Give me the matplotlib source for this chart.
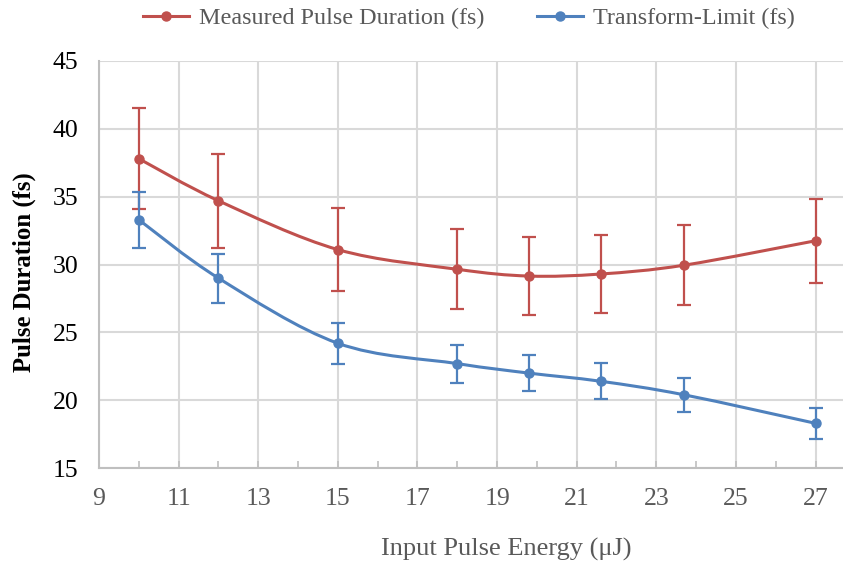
import matplotlib.pyplot as plt
import numpy as np
from matplotlib.path import Path
from matplotlib.patches import PathPatch
from matplotlib.lines import Line2D

energy = [10, 12, 15, 18, 19.8, 21.6, 23.7, 27]
measured = [37.8, 34.7, 31.1, 29.65, 29.15, 29.3, 29.95, 31.75]
measured_err = [3.7, 3.45, 3.05, 2.95, 2.85, 2.9, 2.95, 3.1]
tlimit = [33.3, 29.0, 24.2, 22.7, 22.0, 21.4, 20.4, 18.3]
tlimit_err = [2.05, 1.8, 1.5, 1.4, 1.35, 1.32, 1.27, 1.13]

red = '#C0504D'
blue = '#4F81BD'
gray = '#595959'

plt.rcParams['font.family'] = ['Liberation Serif', 'DejaVu Serif']


def smooth_path(x, y):
    # Excel-like smoothed line: cubic bezier segments
    pts = np.column_stack([x, y]).astype(float)
    n = len(pts)
    verts = [pts[0]]
    codes = [Path.MOVETO]
    for i in range(n - 1):
        p0 = pts[i - 1] if i > 0 else pts[i]
        p1 = pts[i]
        p2 = pts[i + 1]
        p3 = pts[i + 2] if i + 2 < n else pts[i + 1]
        c1 = p1 + (p2 - p0) / 6.0
        c2 = p2 - (p3 - p1) / 6.0
        verts += [c1, c2, p2]
        codes += [Path.CURVE4] * 3
    return Path(verts, codes)


fig = plt.figure(figsize=(8.43, 5.64), dpi=100)
ax = fig.add_axes([0.1174, 0.170, 0.8826, 0.722])

for xs, ys, es, c in [(energy, measured, measured_err, red),
                      (energy, tlimit, tlimit_err, blue)]:
    ax.add_patch(PathPatch(smooth_path(xs, ys), facecolor='none',
                           edgecolor=c, lw=2.2, zorder=3))
    ax.errorbar(xs, ys, yerr=es, fmt='o', color=c, ms=6.5, elinewidth=1.6,
                capsize=5, capthick=1.6, zorder=4)

ax.set_xlim(9, 27.69)
ax.set_ylim(15, 45)
ax.set_xticks(np.arange(9, 28, 2))
ax.set_xticks(np.arange(10, 28, 2), minor=True)
ax.set_yticks(np.arange(15, 46, 5))
ax.grid(True, which='major', color='#D9D9D9', lw=1.5, zorder=0)
ax.set_axisbelow(True)

for s in ['top', 'right']:
    ax.spines[s].set_visible(False)
for s in ['left', 'bottom']:
    ax.spines[s].set_color('#BFBFBF')
    ax.spines[s].set_linewidth(1.5)

ax.tick_params(axis='x', which='both', direction='in', length=5,
               color='#BFBFBF', width=1.2, labelsize=18.5, labelcolor=gray, pad=14)
ax.tick_params(axis='y', length=0, labelsize=18.5, labelcolor='black', pad=15)

ax.set_xlabel('Input Pulse Energy (\u03bcJ)', fontsize=19, color=gray)
ax.xaxis.set_label_coords(0.548, -0.172)
ax.set_ylabel('Pulse Duration (fs)', fontsize=17.8, fontweight='bold',
              color='black')
ax.yaxis.set_label_coords(-0.084, 0.482)

handles = [Line2D([], [], color=red, lw=2.2, marker='o', ms=6.5),
           Line2D([], [], color=blue, lw=2.2, marker='o', ms=6.5)]
leg = fig.legend(handles, ['Measured Pulse Duration (fs)', 'Transform-Limit (fs)'],
                 loc='center', bbox_to_anchor=(0.556, 0.968), ncol=2,
                 frameon=False, fontsize=17.4, handlelength=1.9,
                 columnspacing=2.2, handletextpad=0.4)
for t in leg.get_texts():
    t.set_color(gray)

fig.savefig('out.png', dpi=100)
